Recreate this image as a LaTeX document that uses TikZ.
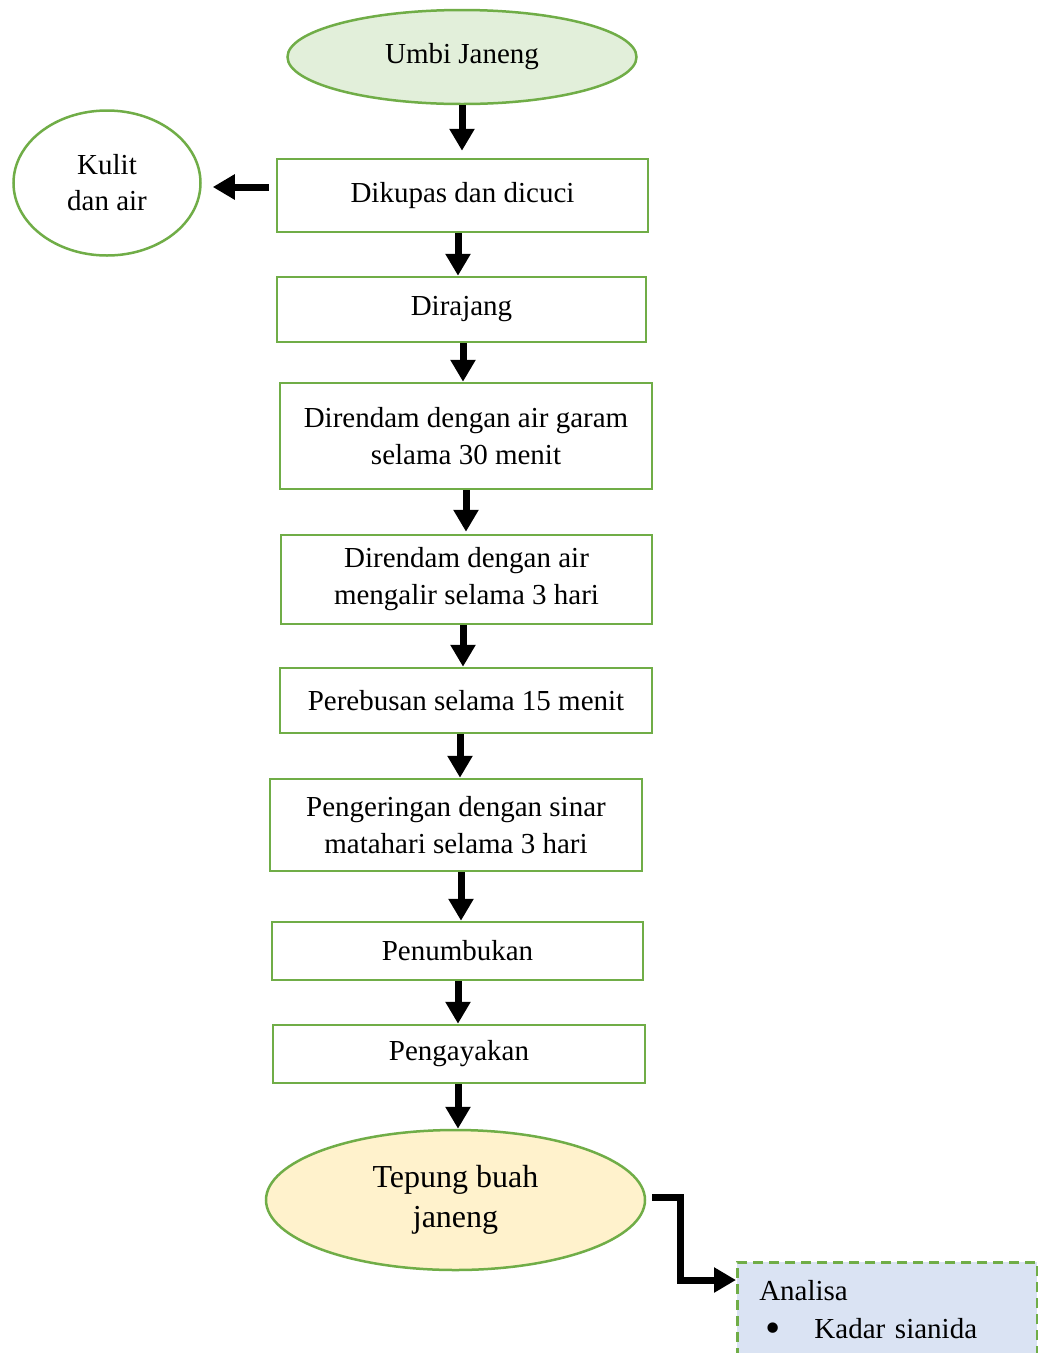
\documentclass[tikz,border=0pt]{standalone}
\usepackage{fontspec}
\setmainfont{Liberation Serif}
\usetikzlibrary{shapes.geometric,arrows.meta}
\definecolor{gborder}{HTML}{70AD47}
\definecolor{umbifill}{HTML}{E2EFDA}
\definecolor{tepfill}{HTML}{FFF2CC}
\definecolor{anfill}{HTML}{DAE3F3}
\begin{document}
\begin{tikzpicture}[x=1pt,y=-1pt,
  box/.style={draw=gborder,line width=2.5pt,rectangle,inner sep=0pt,align=center,font=\fontsize{29}{37}\selectfont},
  oval/.style={draw=gborder,line width=2.5pt,ellipse,inner sep=0pt,align=center,font=\fontsize{29}{36}\selectfont},
  arr/.style={line width=7pt,-{Triangle[width=24pt,length=22pt]}}]
\clip (0,0) rectangle (1038,1353);
\fill[white] (0,0) rectangle (1038,1353);
% nodes
\node[oval,fill=umbifill,minimum width=349,minimum height=94] (umbi) at (462,57) {Umbi Janeng};
\node[oval,fill=white,minimum width=187,minimum height=145] (kulit) at (107,183) {Kulit\\dan air};
\node[box,minimum width=371,minimum height=73] (dik) at (462.5,195.5) {Dikupas dan dicuci};
\node[box,minimum width=369,minimum height=65] (dir) at (461.5,309.5) {Dirajang};
\node[box,minimum width=372,minimum height=106] (gar) at (466,436) {Direndam dengan air garam\\selama 30 menit};
\node[box,minimum width=371,minimum height=89] (mng) at (466.5,579.5) {Direndam dengan air\\mengalir selama 3 hari};
\node[box,minimum width=372,minimum height=65] (reb) at (466,700.5) {Perebusan selama 15 menit};
\node[box,minimum width=372,minimum height=92] (krg) at (456,825) {Pengeringan dengan sinar\\matahari selama 3 hari};
\node[box,minimum width=371,minimum height=58] (tmb) at (457.5,951) {Penumbukan};
\node[box,minimum width=372,minimum height=58] (aya) at (459,1054) {Pengayakan};
\node[oval,fill=tepfill,minimum width=379,minimum height=140,font=\fontsize{32}{40}\selectfont] (tep) at (455.5,1200) {Tepung buah\\janeng};
\node[draw=gborder,line width=2.5pt,dash pattern=on 10pt off 6pt,fill=anfill,anchor=north west,
      minimum width=300,minimum height=98,inner sep=0pt,text width=300,align=left,
      font=\fontsize{29}{38}\selectfont] (an) at (736,1261)
  {\hspace*{22pt}Analisa\\\hspace*{28pt}\raisebox{-4.5pt}{\scalebox{1.5}{\textbullet}}\hspace{34pt}Kadar sianida};
% connectors
\draw[arr,shorten >=7pt] (umbi.south) -- ([xshift=-0.5pt]dik.north);
\draw[arr] ([xshift=-4.5pt]dik.south) -- ([xshift=-3.5pt]dir.north);
\draw[arr] ([xshift=1.5pt]dir.south) -- ([xshift=-3pt]gar.north);
\draw[arr,shorten >=2pt] (gar.south) -- ([xshift=-0.5pt]mng.north);
\draw[arr] ([xshift=-3.5pt]mng.south) -- ([xshift=-3pt]reb.north);
\draw[arr] ([xshift=-6pt]reb.south) -- ([xshift=4pt]krg.north);
\draw[arr] ([xshift=5pt]krg.south) -- ([xshift=3.5pt]tmb.north);
\draw[arr] ([xshift=0.5pt]tmb.south) -- ([xshift=-1pt]aya.north);
\draw[arr] ([xshift=-1pt]aya.south) -- ([xshift=2.5pt]tep.north);
\coordinate (lk) at ([yshift=8.5pt]dik.west);
\draw[arr,shorten <=7pt,shorten >=11pt] (lk) -- (lk -| kulit.east);
\coordinate (ea) at ([xshift=6pt,yshift=3pt]tep.east);
\coordinate (eb) at ([yshift=-19pt]an.north west);
\draw[arr] (ea) -- ++(28,0) |- (eb);
\end{tikzpicture}
\end{document}
